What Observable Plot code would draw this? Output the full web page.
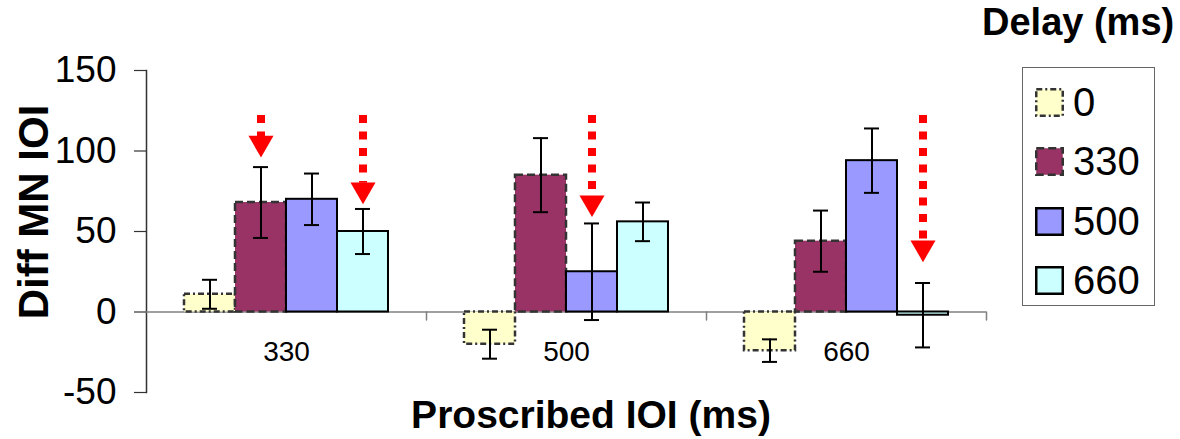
<!DOCTYPE html>
<html>
<head>
<meta charset="utf-8">
<script src="https://cdn.jsdelivr.net/npm/d3@7"></script>
<script src="https://cdn.jsdelivr.net/npm/@observablehq/plot@0.6"></script>
<style>
  html, body { margin: 0; padding: 0; background: #fff; }
  #wrap { position: relative; width: 1180px; height: 439px; font-family: "Liberation Sans", Arial, sans-serif; color: #000; }
  #chart { position: absolute; left: 0; top: 0; }
  .title { position: absolute; font-weight: bold; line-height: 1; white-space: nowrap; }
  #ylab { left: 34px; top: 212px; font-size: 42px; transform: translate(-50%, -50%) rotate(-90deg); }
  #xlab { left: 591px; top: 395px; font-size: 39px; transform: translateX(-50%); }
  #ltitle { left: 982px; top: 3px; font-size: 38px; }
  #legend { position: absolute; left: 1022px; top: 67px; width: 133px; height: 239px; border: 1.5px solid #666; box-sizing: border-box; padding-top: 5px; padding-left: 12px; }
  .lrow { height: 59.3px; display: flex; align-items: center; font-size: 40px; }
  .lrow svg { margin-right: 9px; }
</style>
</head>
<body>
<div id="wrap">
  <div id="chart"></div>
  <div class="title" id="ylab">Diff MN IOI</div>
  <div class="title" id="xlab">Proscribed IOI (ms)</div>
  <div class="title" id="ltitle">Delay (ms)</div>
  <div id="legend"></div>
</div>
<script>
// ---- data ----
const ioiCats = ["330", "500", "660"];
const delays = ["0", "330", "500", "660"];
const mean0   = [11, -20, -24];
const mean330 = [68, 85, 44];
const mean500 = [70, 25, 94];
const mean660 = [50, 56, -2];
const err0   = [9, 9, 7];
const err330 = [22, 23, 19];
const err500 = [16, 30, 20];
const err660 = [14, 12, 20];
const yTicks = [-50, 0, 50, 100, 150];
// red arrows (from value, to value)
const arrowIoi   = ["330", "330", "500", "660"];
const arrowDelay = ["330", "660", "500", "660"];
const arrowFrom  = [122, 122, 122, 122];
const arrowTo    = [96, 67, 59, 31];

// ---- styles ----
const fills   = ["#FFFFCC", "#993366", "#9999FF", "#CCFFFF"];
const strokes = ["#333333", "#333333", "#000000", "#000000"];
const dashes  = ["6,3,2,3", "8,4", null, null];

const means = [mean0, mean330, mean500, mean660];
const errs = [err0, err330, err500, err660];
const series = delays.map((d, k) => ioiCats.map((c, i) => ({ioi: c, delay: d, mean: means[k][i], err: errs[k][i]})));
const rows = series.flat();
const arrows = arrowIoi.map((c, i) => ({ioi: c, delay: arrowDelay[i], from: arrowFrom[i], to: arrowTo[i]}));

const barMarks = series.map((data, k) => Plot.barY(data, {
  fx: "ioi", x: "delay", y: "mean", fill: "delay",
  stroke: strokes[k], strokeWidth: k < 2 ? 2.5 : 2,
  strokeDasharray: dashes[k] || undefined
}));

const chart = Plot.plot({
  width: 1000, height: 439,
  marginLeft: 145, marginRight: 14, marginTop: 70, marginBottom: 47,
  style: {fontFamily: "'Liberation Sans', Arial, sans-serif", background: "transparent", color: "#000"},
  fx: {domain: ioiCats, padding: 0, axis: null},
  x: {domain: delays, paddingInner: 0, paddingOuter: 0.74, axis: null},
  y: {domain: [-50, 150]},
  color: {domain: delays, range: fills},
  marks: [
    Plot.axisY({ticks: yTicks, tickFormat: d => String(d), tickSize: 12, tickPadding: 18, fontSize: 37, label: null, stroke: "#333", strokeWidth: 1.2}),
    Plot.frame({anchor: "left", facetAnchor: "left", stroke: "#333", strokeWidth: 1.5}),
    Plot.ruleY(ioiCats, {fx: d => d, y: () => 0, stroke: "#808080", strokeWidth: 1.5}),
    Plot.vector(ioiCats, {fx: d => d, y: () => 0, frameAnchor: "right", length: 8, rotate: 180, anchor: "start", shape: "spike", r: 0, stroke: "#808080", strokeWidth: 1.5}),
    ...barMarks,
    Plot.ruleX(rows, {fx: "ioi", x: "delay", y1: d => d.mean - d.err, y2: d => d.mean + d.err, stroke: "#000", strokeWidth: 2}),
    Plot.tickY(rows, {fx: "ioi", x: "delay", y: d => d.mean - d.err, insetLeft: 18, insetRight: 18, stroke: "#000", strokeWidth: 2}),
    Plot.tickY(rows, {fx: "ioi", x: "delay", y: d => d.mean + d.err, insetLeft: 18, insetRight: 18, stroke: "#000", strokeWidth: 2}),
    Plot.ruleX(arrows, {fx: "ioi", x: "delay", y1: "from", y2: "to", insetBottom: 21, stroke: "#FF0000", strokeWidth: 8, strokeDasharray: "8,8.5", strokeLinecap: "butt"}),
    Plot.dot(arrows, {fx: "ioi", x: "delay", y: "to", dy: -14.4, symbol: "triangle", rotate: 180, r: 9.3, fill: "#FF0000", stroke: "none"}),
    Plot.text(ioiCats, {fx: d => d, text: d => d, frameAnchor: "bottom", lineAnchor: "middle", dy: -40, fontSize: 28, fill: "#000"})
  ]
});
document.getElementById("chart").appendChild(chart);

// ---- legend ----
const legend = document.getElementById("legend");
delays.forEach((d, k) => {
  const row = document.createElement("div");
  row.className = "lrow";
  const svg = d3.create("svg").attr("width", 29).attr("height", 29);
  svg.append("rect").attr("x", 1.25).attr("y", 1.25).attr("width", 26.5).attr("height", 26.5)
    .attr("fill", fills[k]).attr("stroke", strokes[k]).attr("stroke-width", 2.5)
    .attr("stroke-dasharray", dashes[k] || null);
  row.appendChild(svg.node());
  const t = document.createElement("span");
  t.textContent = d;
  row.appendChild(t);
  legend.appendChild(row);
});
</script>
</body>
</html>
